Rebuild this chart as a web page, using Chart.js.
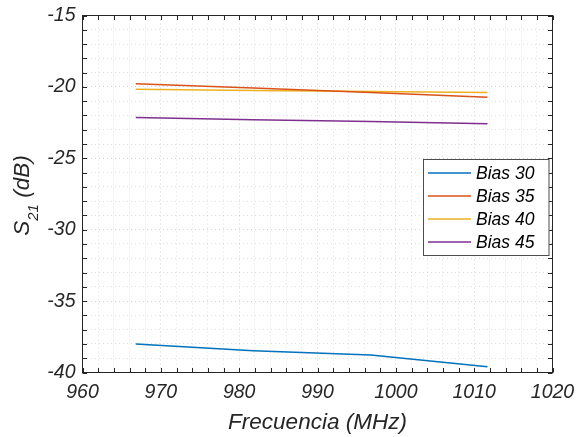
<!DOCTYPE html>
<html>
<head>
<meta charset="utf-8">
<script src="https://cdn.jsdelivr.net/npm/chart.js@4.4.1/dist/chart.umd.min.js"></script>
<style>
  html, body { margin: 0; padding: 0; background: #fff; }
  canvas { display: block; }
</style>
</head>
<body>
<canvas id="chart" width="577" height="437"></canvas>
<script>
/* Data */
const freq = [966.8, 981.8, 996.8, 1011.7];
const bias30 = [-38.0, -38.47, -38.77, -39.59];
const bias35 = [-19.78, -20.08, -20.4, -20.73];
const bias40 = [-20.17, -20.25, -20.33, -20.4];
const bias45 = [-22.15, -22.3, -22.43, -22.58];
const seriesNames = ["Bias 30", "Bias 35", "Bias 40", "Bias 45"];
const seriesColors = ["#0072BD", "#D95319", "#EDB120", "#7E2F8E"];

const xLabel = "Frecuencia (MHz)";
const axisColor = "#262626";
const fontFam = "'Liberation Sans', Arial, sans-serif";

const toPoints = (vals) => freq.map((f, i) => ({ x: f, y: vals[i] }));
const allSeries = [bias30, bias35, bias40, bias45];

/* frame, inward ticks, y title and legend */
const matlabAxes = {
  id: "matlabAxes",
  afterDraw(chart) {
    const { ctx, chartArea: a, scales } = chart;
    const xs = scales.x, ys = scales.y;
    ctx.save();
    ctx.strokeStyle = axisColor;
    ctx.lineWidth = 1;
    ctx.beginPath();
    const tl = 4.5;
    xs.ticks.forEach((t) => {
      const px = Math.round(xs.getPixelForValue(t.value)) + 0.5;
      ctx.moveTo(px, a.bottom); ctx.lineTo(px, a.bottom - tl);
      ctx.moveTo(px, a.top); ctx.lineTo(px, a.top + tl);
    });
    ys.ticks.forEach((t) => {
      const py = Math.round(ys.getPixelForValue(t.value)) + 0.5;
      ctx.moveTo(a.left, py); ctx.lineTo(a.left + tl, py);
      ctx.moveTo(a.right, py); ctx.lineTo(a.right - tl, py);
    });
    ctx.stroke();
    ctx.strokeRect(a.left, a.top, a.right - a.left, a.bottom - a.top);

    // y title with subscript
    ctx.fillStyle = axisColor;
    ctx.translate(28.5, 195.5);
    ctx.rotate(-Math.PI / 2);
    ctx.textBaseline = "alphabetic";
    const big = "italic 22.5px " + fontFam, small = "italic 15px " + fontFam;
    ctx.font = big; const wS = ctx.measureText("S").width;
    const wRest = ctx.measureText(" (dB)").width;
    ctx.font = small; const w21 = ctx.measureText("21").width;
    let x0 = -(wS + w21 + wRest) / 2;
    ctx.font = big; ctx.fillText("S", x0, 0);
    ctx.font = small; ctx.fillText("21", x0 + wS, 9);
    ctx.font = big; ctx.fillText(" (dB)", x0 + wS + w21, 0);
    ctx.restore();

    // legend box
    ctx.save();
    const lx = 423.5, ly = 159.5, lw = 125.5, lh = 96;
    ctx.fillStyle = "#fff";
    ctx.fillRect(lx, ly, lw, lh);
    ctx.strokeStyle = "#4d4d4d";
    ctx.lineWidth = 1;
    ctx.strokeRect(lx, ly, lw, lh);
    ctx.font = "italic 17.5px " + fontFam;
    ctx.textBaseline = "middle";
    chart.data.datasets.forEach((ds, i) => {
      const ry = 173 + i * 23;
      ctx.strokeStyle = ds.borderColor;
      ctx.lineWidth = 1.5;
      ctx.beginPath();
      ctx.moveTo(428, ry); ctx.lineTo(471, ry);
      ctx.stroke();
      ctx.fillStyle = "#000";
      ctx.fillText(ds.label, 476, ry + 1);
    });
    ctx.restore();
  },
};

const gridColor = (ctx, step) =>
  ctx.tick && ctx.tick.value % step === 0 ? "rgba(0,0,0,0.18)" : "rgba(0,0,0,0.12)";

new Chart(document.getElementById("chart"), {
  type: "line",
  data: {
    datasets: allSeries.map((vals, i) => ({
      label: seriesNames[i],
      data: toPoints(vals),
      borderColor: seriesColors[i],
      backgroundColor: seriesColors[i],
      borderWidth: 1.5,
      pointRadius: 0,
      tension: 0,
      fill: false,
    })),
  },
  options: {
    responsive: false,
    animation: false,
    layout: { padding: { left: 0, top: 15.5, right: 24.5, bottom: 0 } },
    plugins: { legend: { display: false }, tooltip: { enabled: false } },
    scales: {
      x: {
        type: "linear",
        min: 960,
        max: 1020,
        afterFit(s) { s.height = 64.5; s.paddingLeft = 0; s.paddingRight = 0; },
        ticks: {
          stepSize: 2,
          autoSkip: false,
          maxRotation: 0,
          padding: 8,
          color: axisColor,
          font: { family: fontFam, size: 19.5, style: "italic" },
          callback: (v) => (v % 10 === 0 ? v : ""),
        },
        grid: {
          drawTicks: false,
          color: (c) => gridColor(c, 10),
          lineWidth: 1,
        },
        border: { display: false, dash: [1, 3] },
        title: {
          display: true,
          text: xLabel,
          color: axisColor,
          padding: { top: 0, bottom: 0.5 },
          font: { family: fontFam, size: 22.5, style: "italic" },
        },
      },
      y: {
        min: -40,
        max: -15,
        afterFit(s) { s.width = 82.5; s.paddingTop = 0; s.paddingBottom = 0; },
        ticks: {
          stepSize: 1,
          autoSkip: false,
          padding: 7,
          color: axisColor,
          font: { family: fontFam, size: 19.5, style: "italic" },
          callback: (v) => (v % 5 === 0 ? v : ""),
        },
        grid: {
          drawTicks: false,
          color: (c) => gridColor(c, 5),
          lineWidth: 1,
        },
        border: { display: false, dash: [1, 3] },
      },
    },
  },
  plugins: [matlabAxes],
});
</script>
</body>
</html>
